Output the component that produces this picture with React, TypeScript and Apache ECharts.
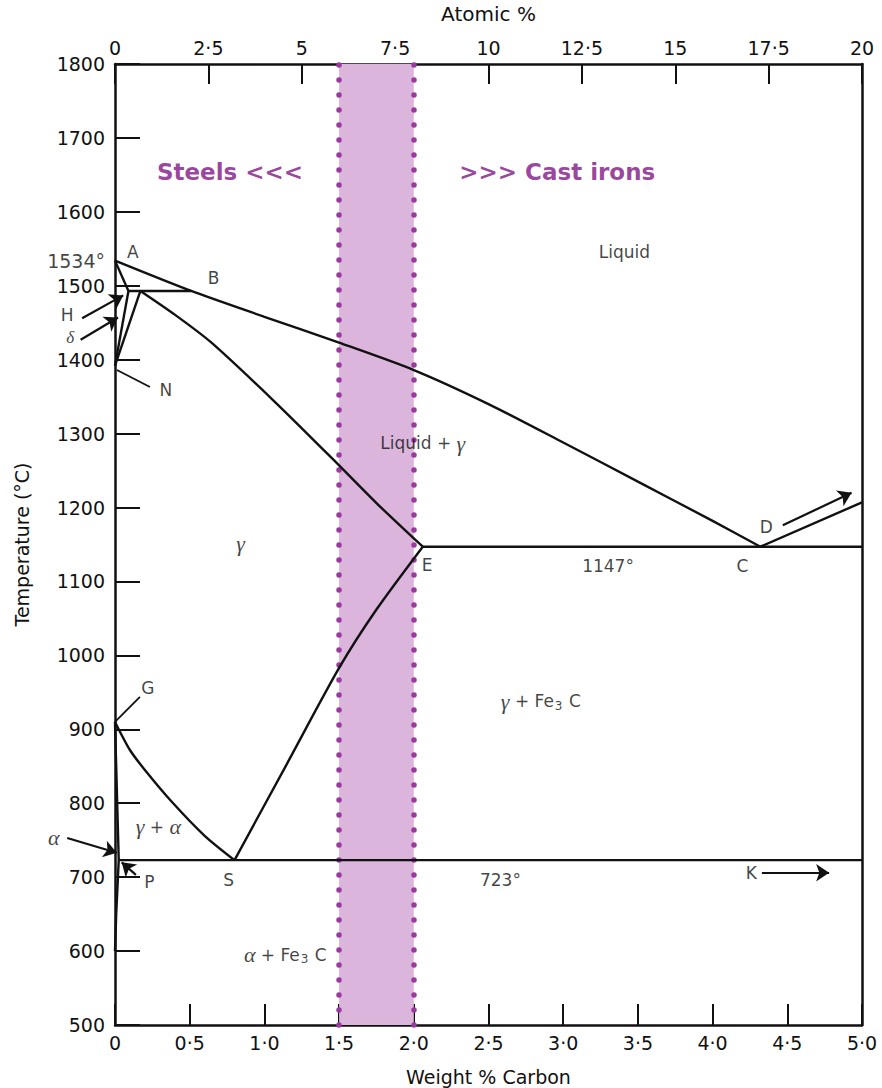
import React, { useEffect, useRef } from 'react';
import * as echarts from 'echarts';

// ---- Phase boundary data (weight % C, temperature °C) ----
const liquidus = [[0, 1534], [0.51, 1493], [1.0, 1458], [1.5, 1423], [2.0, 1386], [2.5, 1340], [3.0, 1288], [3.5, 1235], [4.0, 1182], [4.32, 1147]];
const deltaSolidus = [[0, 1534], [0.09, 1493]];
const peritectic = [[0.09, 1493], [0.51, 1493]];
const deltaBoundaryH = [[0.09, 1493], [0, 1392]];
const deltaBoundaryJ = [[0.17, 1493], [0, 1392]];
const gammaSolidus = [[0.17, 1493], [0.4, 1461], [0.64, 1424], [1.08, 1341], [1.48, 1261], [1.75, 1206], [2.06, 1147]];
const eutectic = [[2.06, 1147], [5.0, 1147]];
const cementiteLiquidus = [[4.32, 1147], [5.0, 1207]];
const acm = [[0.8, 723], [1.15, 853], [1.5, 983], [1.75, 1062], [2.06, 1147]];
const a3 = [[0, 910], [0.1, 872], [0.2, 845], [0.38, 802], [0.6, 756], [0.8, 723]];
const alphaGamma = [[0, 910], [0.025, 723]];
const eutectoid = [[0.025, 723], [5.0, 723]];
const alphaSolvus = [[0.025, 723], [0.008, 650], [0, 600]];

const boundaries = [liquidus, deltaSolidus, peritectic, deltaBoundaryH, deltaBoundaryJ, gammaSolidus, eutectic, cementiteLiquidus, acm, a3, alphaGamma, eutectoid, alphaSolvus];

// ---- Shaded band (steel / cast iron border) ----
const bandFrom = 1.5;
const bandTo = 2.0;

// ---- Axes ----
const wtMin = 0, wtMax = 5, wtStep = 0.5;
const atMin = 0, atMax = 20, atStep = 2.5;
const tMin = 500, tMax = 1800, tStep = 100;
const meltingPoint = 1534;

// ---- Annotations ----
const regionTexts = [
  { text: '{n|Liquid}', at: [3.41, 1546] },
  { text: '{n|Liquid + }{g|γ}', at: [2.06, 1287] },
  { text: '{g|γ}', at: [0.84, 1152] },
  { text: '{n|1147°}', at: [3.3, 1121] },
  { text: '{g|γ}{n| + Fe}{s|3}{n| C}', at: [2.85, 938] },
  { text: '{g|γ}{n| + }{g|α}', at: [0.29, 768] },
  { text: '{n|723°}', at: [2.58, 696] },
  { text: '{g|α}{n| + Fe}{s|3}{n| C}', at: [1.14, 595] },
  { text: '{n|A}', at: [0.12, 1546] },
  { text: '{n|B}', at: [0.66, 1510] },
  { text: '{n|N}', at: [0.34, 1359] },
  { text: '{n|E}', at: [2.09, 1122] },
  { text: '{n|C}', at: [4.2, 1121] },
  { text: '{n|D}', at: [4.36, 1174] },
  { text: '{n|K}', at: [4.26, 706] },
  { text: '{n|S}', at: [0.76, 696] },
  { text: '{n|P}', at: [0.23, 693] },
  { text: '{n|G}', at: [0.22, 956] },
  { text: '{n|H}', at: [-0.32, 1460] },
  { text: '{d|δ}', at: [-0.3, 1430] },
  { text: '{g|α}', at: [-0.41, 754] },
];
const bandTexts = [
  { text: 'Steels <<<', at: [0.77, 1654] },
  { text: '>>> Cast irons', at: [2.96, 1654] },
];
const arrows = [
  [[-0.22, 1456], [0.055, 1487]],
  [[-0.23, 1427], [0.02, 1457]],
  [[-0.32, 753], [0.012, 733]],
  [[0.14, 703], [0.045, 720]],
  [[4.47, 1176], [4.93, 1220]],
  [[4.33, 706], [4.78, 706]],
];
const pointers = [
  [[0, 910], [0.167, 944]],
  [[0.013, 1386], [0.234, 1363]],
];

const INK = '#111111';
const FONT = 'DejaVu Sans';

const fmtWt = (v: number) => (v === 0 ? '0' : v.toFixed(1).replace('.', '·'));
const fmtAt = (v: number) => (Number.isInteger(v) ? String(v) : v.toFixed(1).replace('.', '·'));
const fmtT = (v: number) => String(v);

export default function App() {
  const ref = useRef<HTMLDivElement>(null);
  useEffect(() => {
    if (!ref.current) return;
    const chart = echarts.init(ref.current, null, { renderer: 'svg' });
    const axisLine = { show: true, onZero: false, lineStyle: { color: INK, width: 2.5 } };
    const richStyles = {
      n: { fontFamily: FONT, fontSize: 17, color: INK },
      g: { fontFamily: 'Liberation Serif', fontStyle: 'italic', fontSize: 22, color: INK },
      d: { fontFamily: 'Liberation Serif', fontStyle: 'italic', fontSize: 17, color: INK, lineHeight: 16 },
      s: { fontFamily: FONT, fontSize: 12, color: INK, padding: [9, 1, 0, 1] },
    };
    const lineSeries = boundaries.map((d) => ({
      type: 'line',
      data: d,
      xAxisIndex: 0,
      yAxisIndex: 0,
      showSymbol: false,
      symbol: 'none',
      silent: true,
      clip: false,
      smooth: d.length > 3 ? 0.25 : false,
      z: 5,
      lineStyle: { color: INK, width: 2.4 },
    }));
    chart.setOption({
      animation: false,
      backgroundColor: '#ffffff',
      grid: { left: 115, right: 20, top: 64, bottom: 63, containLabel: false, outerBoundsMode: 'none' },
      xAxis: [
        {
          type: 'value', position: 'bottom', min: wtMin, max: wtMax, interval: wtStep,
          name: 'Weight % Carbon', nameLocation: 'middle', nameGap: 42,
          nameTextStyle: { fontFamily: FONT, fontSize: 19, color: INK },
          axisLine, axisTick: { show: true, inside: true, length: 21, lineStyle: { color: INK, width: 2 } },
          axisLabel: { formatter: fmtWt, fontFamily: FONT, fontSize: 19, color: INK, margin: 8 },
          splitLine: { show: false },
        },
        {
          type: 'value', position: 'top', min: atMin, max: atMax, interval: atStep,
          name: 'Atomic %', nameLocation: 'middle', nameGap: 40,
          nameTextStyle: { fontFamily: FONT, fontSize: 20, color: INK },
          axisLine, axisTick: { show: true, inside: true, length: 20, lineStyle: { color: INK, width: 2 } },
          axisLabel: { formatter: fmtAt, fontFamily: FONT, fontSize: 19, color: INK, margin: 7 },
          splitLine: { show: false },
        },
      ],
      yAxis: [
        {
          type: 'value', position: 'left', min: tMin, max: tMax, interval: tStep,
          name: 'Temperature (°C)', nameLocation: 'middle', nameGap: 84, nameRotate: 90,
          nameTextStyle: { fontFamily: FONT, fontSize: 19, color: INK },
          axisLine, axisTick: { show: true, inside: true, length: 25, lineStyle: { color: INK, width: 2 } },
          axisLabel: { formatter: fmtT, fontFamily: FONT, fontSize: 19, color: INK, margin: 10 },
          splitLine: { show: false },
        },
        {
          type: 'value', position: 'right', min: tMin, max: tMax, interval: tStep,
          axisLine, axisTick: { show: false }, axisLabel: { show: false }, splitLine: { show: false },
        },
      ],
      series: [
        {
          type: 'line', data: [], xAxisIndex: 0, yAxisIndex: 0, silent: true,
          markArea: {
            silent: true,
            itemStyle: { color: '#dbb5dc' },
            data: [[{ xAxis: bandFrom }, { xAxis: bandTo }]],
          },
          markLine: {
            silent: true, symbol: 'none', label: { show: false },
            lineStyle: { color: '#9a3a9e', width: 5.5, type: [0, 15], cap: 'round' },
            data: [{ xAxis: bandFrom }, { xAxis: bandTo }],
          },
          z: 1,
        },
        ...lineSeries,
        {
          type: 'lines', coordinateSystem: 'cartesian2d', xAxisIndex: 0, yAxisIndex: 0, silent: true, z: 6,
          clip: false,
          symbol: ['none', 'arrow'], symbolSize: 13,
          lineStyle: { color: INK, width: 2.2, opacity: 1 },
          data: arrows.map((c) => ({ coords: c })),
        },
        {
          type: 'lines', coordinateSystem: 'cartesian2d', xAxisIndex: 0, yAxisIndex: 0, silent: true, z: 6,
          clip: false,
          symbol: 'none',
          lineStyle: { color: INK, width: 1.8, opacity: 1 },
          data: pointers.map((c) => ({ coords: c })),
        },
        {
          type: 'scatter', xAxisIndex: 0, yAxisIndex: 0, symbolSize: 0, silent: true, clip: false, z: 7,
          label: { show: true, position: 'inside', rich: richStyles },
          data: regionTexts.map((r) => ({ value: r.at, label: { formatter: r.text } })),
        },
        {
          type: 'scatter', xAxisIndex: 0, yAxisIndex: 0, symbolSize: 0, silent: true, clip: false, z: 7,
          label: { show: true, position: 'inside', fontFamily: FONT, fontWeight: 'bold', fontSize: 23, color: '#7e1682' },
          data: bandTexts.map((r) => ({ value: r.at, label: { formatter: r.text } })),
        },
        {
          type: 'scatter', xAxisIndex: 0, yAxisIndex: 0, symbolSize: 0, silent: true, clip: false, z: 7,
          label: { show: true, position: 'left', distance: 10, fontFamily: FONT, fontSize: 19, color: INK, formatter: () => meltingPoint + '°' },
          data: [[0, meltingPoint]],
        },
      ],
    });
    return () => chart.dispose();
  }, []);
  return <div ref={ref} style={{ position: 'fixed', left: 0, top: 0, width: 882, height: 1088, background: '#fff' }} />;
}
